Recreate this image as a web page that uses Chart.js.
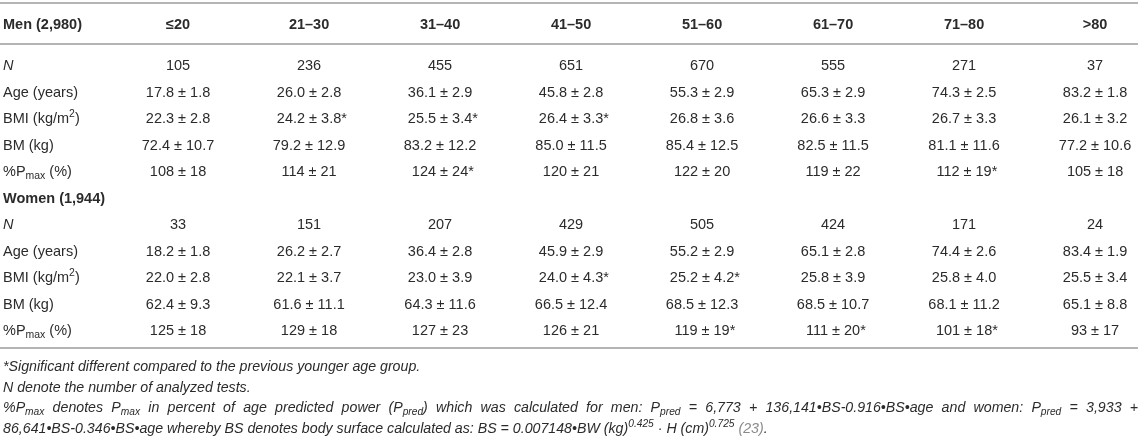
<!DOCTYPE html>
<html>
<head>
<meta charset="utf-8">
<script src="https://cdn.jsdelivr.net/npm/chart.js@4.4.1/dist/chart.umd.min.js"></script>
<style>
  html, body { margin: 0; padding: 0; background: #fff; }
  #wrap { width: 1143px; height: 440px; position: relative; }
</style>
</head>
<body>
<div id="wrap"><canvas id="table"></canvas></div>
<script>
// markup in texts: _{sub}  ^{sup}  /{italic}  ~{grey}
const ageGroups = ['≤20', '21–30', '31–40', '41–50', '51–60', '61–70', '71–80', '>80'];
const rowLabels = ['/{N}', 'Age (years)', 'BMI (kg/m^{2})', 'BM (kg)', '%P_{max} (%)'];
const menTitle = 'Men (2,980)';
const womenTitle = 'Women (1,944)';

const menN = ['105', '236', '455', '651', '670', '555', '271', '37'];
const menAge = ['17.8 ± 1.8', '26.0 ± 2.8', '36.1 ± 2.9', '45.8 ± 2.8', '55.3 ± 2.9', '65.3 ± 2.9', '74.3 ± 2.5', '83.2 ± 1.8'];
const menBMI = ['22.3 ± 2.8', '24.2 ± 3.8*', '25.5 ± 3.4*', '26.4 ± 3.3*', '26.8 ± 3.6', '26.6 ± 3.3', '26.7 ± 3.3', '26.1 ± 3.2'];
const menBM = ['72.4 ± 10.7', '79.2 ± 12.9', '83.2 ± 12.2', '85.0 ± 11.5', '85.4 ± 12.5', '82.5 ± 11.5', '81.1 ± 11.6', '77.2 ± 10.6'];
const menPmax = ['108 ± 18', '114 ± 21', '124 ± 24*', '120 ± 21', '122 ± 20', '119 ± 22', '112 ± 19*', '105 ± 18'];

const womenN = ['33', '151', '207', '429', '505', '424', '171', '24'];
const womenAge = ['18.2 ± 1.8', '26.2 ± 2.7', '36.4 ± 2.8', '45.9 ± 2.9', '55.2 ± 2.9', '65.1 ± 2.8', '74.4 ± 2.6', '83.4 ± 1.9'];
const womenBMI = ['22.0 ± 2.8', '22.1 ± 3.7', '23.0 ± 3.9', '24.0 ± 4.3*', '25.2 ± 4.2*', '25.8 ± 3.9', '25.8 ± 4.0', '25.5 ± 3.4'];
const womenBM = ['62.4 ± 9.3', '61.6 ± 11.1', '64.3 ± 11.6', '66.5 ± 12.4', '68.5 ± 12.3', '68.5 ± 10.7', '68.1 ± 11.2', '65.1 ± 8.8'];
const womenPmax = ['125 ± 18', '129 ± 18', '127 ± 23', '126 ± 21', '119 ± 19*', '111 ± 20*', '101 ± 18*', '93 ± 17'];

const footnotes = [
    '*Significant different compared to the previous younger age group.',
    'N denote the number of analyzed tests.',
    '%P_{max} denotes P_{max} in percent of age predicted power (P_{pred}) which was calculated for men: P_{pred} = 6,773 + 136,141•BS-0.916•BS•age and women: P_{pred} = 3,933 +',
    '86,641•BS-0.346•BS•age whereby BS denotes body surface calculated as: BS = 0.007148•BW (kg)^{0.425} · H (cm)^{0.725} ~{(23)}.'
];

// layout in scale units (x: column index, y: row index)
const LABEL_X = -0.336;
const RIGHT_X = 8.328;
const HEADER_Y = -1.566;
const RULES_Y = [-2.377, -0.83, 10.642];
const FOOT_Y = [11.358, 12.151, 12.906, 13.698];
const TEXT = '#2b2b2b';
const FONT = '"Liberation Sans", Arial, Helvetica, sans-serif';

function parse(str) {
    const segs = [];
    const re = /([_^\/~])\{([^}]*)\}/g;
    let last = 0, m;
    while ((m = re.exec(str)) !== null) {
        if (m.index > last) segs.push({ t: str.slice(last, m.index) });
        segs.push({ t: m[2], kind: m[1] });
        last = re.lastIndex;
    }
    if (last < str.length) segs.push({ t: str.slice(last) });
    return segs;
}

function segFont(seg, size, bold, italic) {
    const small = seg.kind === '_' || seg.kind === '^';
    const it = italic || seg.kind === '/';
    return (it ? 'italic ' : '') + (bold ? 'bold ' : '') + (small ? size * 0.72 : size) + 'px ' + FONT;
}

function drawRich(ctx, str, x, y, opts) {
    const size = opts.size, segs = parse(str);
    const widths = segs.map(s => { ctx.font = segFont(s, size, opts.bold, opts.italic); return ctx.measureText(s.t).width; });
    const total = widths.reduce((a, b) => a + b, 0);
    let extra = 0;
    if (opts.justify) {
        const spaces = segs.reduce((n, s) => n + (s.kind ? 0 : (s.t.match(/ /g) || []).length), 0);
        extra = spaces ? (opts.justify - total) / spaces : 0;
    }
    let cx = opts.align === 'center' ? x - total / 2 : x;
    ctx.textBaseline = 'middle';
    ctx.textAlign = 'left';
    segs.forEach((s, i) => {
        ctx.font = segFont(s, size, opts.bold, opts.italic);
        ctx.fillStyle = s.kind === '~' ? '#8a8a8a' : TEXT;
        const dy = s.kind === '_' ? size * 0.28 : s.kind === '^' ? -size * 0.33 : 0;
        if (extra && !s.kind) {
            s.t.split(' ').forEach((w, k, arr) => {
                ctx.fillText(w, cx, y + dy);
                cx += ctx.measureText(w).width;
                if (k < arr.length - 1) cx += ctx.measureText(' ').width + extra;
            });
        } else {
            ctx.fillText(s.t, cx, y + dy);
            cx += widths[i];
        }
    });
}

// build the cells from the arrays
const menRows = [menN, menAge, menBMI, menBM, menPmax];
const womenRows = [womenN, womenAge, womenBMI, womenBM, womenPmax];

const labelCells = [];
const valueCells = [];
const headerCells = [{ x: LABEL_X, y: HEADER_Y, text: menTitle }, { x: LABEL_X, y: 5, text: womenTitle }];
ageGroups.forEach((g, j) => headerCells.push({ x: j + 1, y: HEADER_Y, text: g, center: true }));
[menRows, womenRows].forEach((rows, s) => {
    rows.forEach((vals, r) => {
        const row = s * 6 + r;
        labelCells.push({ x: LABEL_X, y: row, text: rowLabels[r] });
        vals.forEach((v, j) => valueCells.push({ x: j + 1, y: row, text: v }));
    });
});

const tablePlugin = {
    id: 'tableText',
    afterDatasetsDraw(chart) {
        const ctx = chart.ctx;
        const xs = chart.scales.x, ys = chart.scales.y;
        ctx.save();
        // rules
        ctx.strokeStyle = '#b4b4b4';
        ctx.lineWidth = 2;
        RULES_Y.forEach(r => {
            const py = Math.round(ys.getPixelForValue(r));
            ctx.beginPath();
            ctx.moveTo(xs.getPixelForValue(xs.min), py);
            ctx.lineTo(xs.getPixelForValue(RIGHT_X), py);
            ctx.stroke();
        });
        // cells
        chart.data.datasets.forEach((ds, i) => {
            const meta = chart.getDatasetMeta(i);
            meta.data.forEach((el, k) => {
                const cell = ds.data[k];
                const txt = cell.text;
                if (ds.kind === 'value') {
                    const star = txt.endsWith('*');
                    const base = star ? txt.slice(0, -1) : txt;
                    ctx.font = '14.5px ' + FONT;
                    const w = ctx.measureText(base).width;
                    drawRich(ctx, base, el.x, el.y, { size: 14.5, align: 'center' });
                    if (star) drawRich(ctx, '*', el.x + w / 2, el.y, { size: 14.5 });
                } else {
                    drawRich(ctx, txt, el.x, el.y, { size: 14.5, bold: ds.kind === 'header', align: cell.center ? 'center' : 'left' });
                }
            });
        });
        // footnotes
        const fx = xs.getPixelForValue(LABEL_X);
        const fw = xs.getPixelForValue(RIGHT_X) - fx;
        footnotes.forEach((f, i) => {
            drawRich(ctx, f, fx, ys.getPixelForValue(FOOT_Y[i]), { size: 14.2, italic: true, justify: i === 2 ? fw : 0 });
        });
        ctx.restore();
    }
};

new Chart(document.getElementById('table'), {
    type: 'scatter',
    data: {
        datasets: [
            { kind: 'header', data: headerCells, pointRadius: 0 },
            { kind: 'label', data: labelCells, pointRadius: 0 },
            { kind: 'value', data: valueCells, pointRadius: 0 }
        ]
    },
    options: {
        responsive: true,
        maintainAspectRatio: false,
        animation: false,
        events: [],
        layout: { padding: 0 },
        scales: {
            x: { type: 'linear', display: false, min: -0.359, max: 8.366 },
            y: { type: 'linear', display: false, reverse: true, min: -2.4906, max: 14.113 }
        },
        plugins: {
            legend: { display: false },
            tooltip: { enabled: false }
        }
    },
    plugins: [tablePlugin]
});
</script>
</body>
</html>
